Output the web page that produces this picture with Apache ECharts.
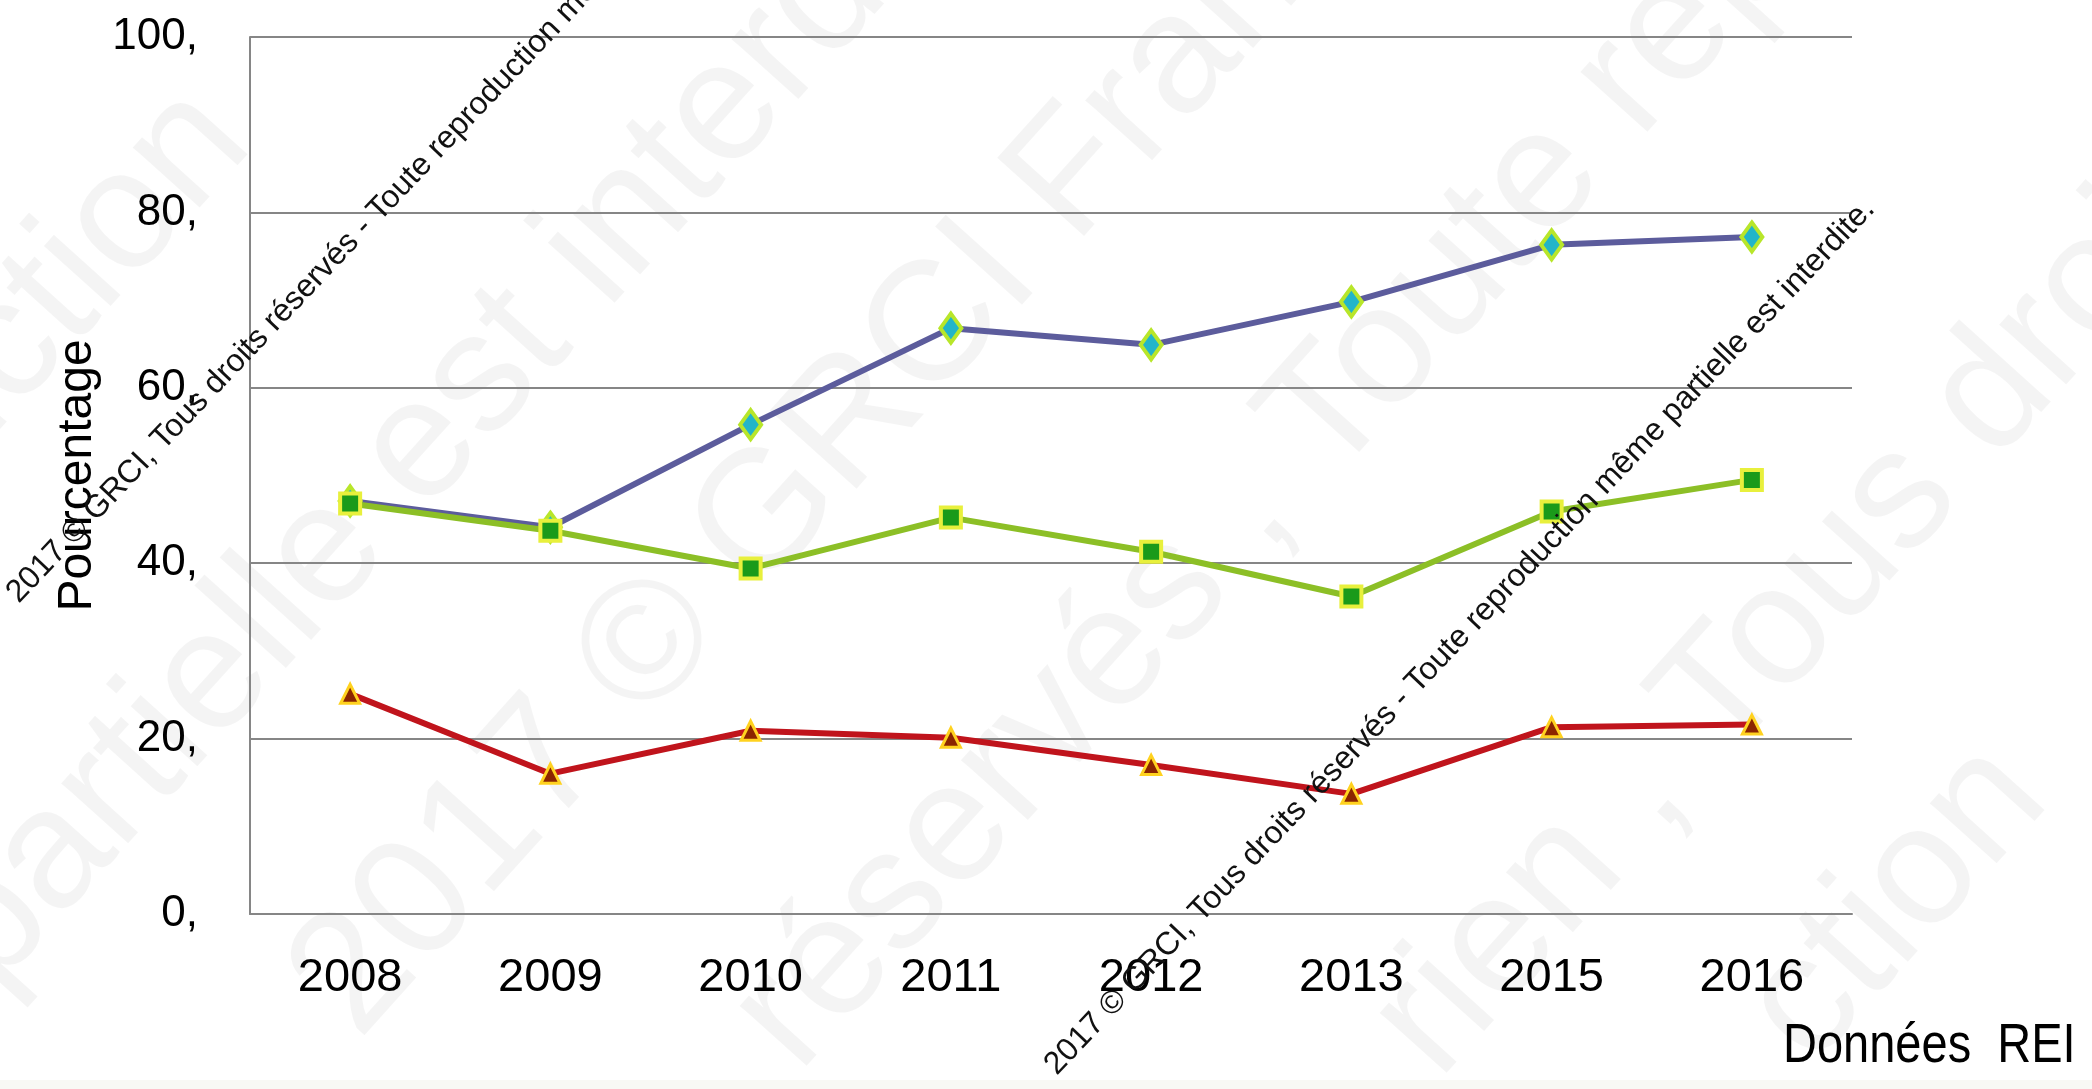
<!DOCTYPE html>
<html>
<head>
<meta charset="utf-8">
<script src="https://cdn.jsdelivr.net/npm/echarts@6/dist/echarts.min.js"></script>
<style>
html,body{margin:0;padding:0;background:#fff;}
#chart{width:2092px;height:1089px;}
</style>
</head>
<body>
<div id="chart"></div>
<script>
const categories = ['2008', '2009', '2010', '2011', '2012', '2013', '2015', '2016'];
const blueValues = [47.1, 44.1, 55.8, 66.8, 64.9, 69.8, 76.3, 77.2];
const greenValues = [46.8, 43.7, 39.4, 45.2, 41.3, 36.2, 45.9, 49.5];
const redValues = [25.1, 16.0, 20.9, 20.1, 17.0, 13.7, 21.3, 21.6];
const yMin = 0, yMax = 100, yStep = 20;
const yAxisName = 'Pourcentage';
const sourceText = 'Données  REI';
const copyrightText = '2017 © GRCI, Tous droits réservés - Toute reproduction même partielle est interdite.';
const faintTexts = [
  'Toute reproduction',
  'partielle est interdite',
  '2017 © GRCI France',
  'réservés , Toute reproduction',
  'rien , Tous droits',
  'ction'
];

const chart = echarts.init(document.getElementById('chart'));
const ang = 46.6 * Math.PI / 180;
const fang = 48 * Math.PI / 180;
const faintPos = [[-659, 1218], [22, 1018], [387, 1067], [827, 1100], [1467, 1107], [1840, 1094]];

const graphics = [
  { type: 'rect', left: 0, top: 1080, z: -20, shape: { width: 2092, height: 9 }, style: { fill: '#f8f9f5' } }
];
faintTexts.forEach((t, i) => {
  graphics.push({
    type: 'text', x: faintPos[i][0], y: faintPos[i][1], rotation: fang, z: -10,
    style: { text: t, font: '170px "Liberation Sans"', fill: 'rgba(0,0,0,0.045)', textAlign: 'left', textVerticalAlign: 'bottom' }
  });
});
[[24, 609], [1062, 1081]].forEach(p => {
  graphics.push({
    type: 'text', x: p[0], y: p[1], rotation: ang, z: 100,
    style: { text: copyrightText, font: '32px "Liberation Sans"', fill: '#111', textAlign: 'left', textVerticalAlign: 'bottom' }
  });
});
graphics.push({
  type: 'text', x: 1783, y: 1075, scaleY: 1.19, z: 50,
  style: { text: sourceText, font: '47px "Liberation Sans"', fill: '#000', textAlign: 'left', textVerticalAlign: 'bottom' }
});

chart.setOption({
  animation: false,
  backgroundColor: '#ffffff',
  grid: { left: 250, right: 240, top: 37, bottom: 175, containLabel: false },
  xAxis: {
    type: 'category',
    data: categories,
    boundaryGap: true,
    axisLine: { show: true, lineStyle: { color: '#868686', width: 2 } },
    axisTick: { show: false },
    axisLabel: { fontFamily: 'Liberation Sans', fontSize: 47, color: '#000', margin: 41 },
    splitLine: { show: false }
  },
  yAxis: {
    type: 'value',
    min: yMin, max: yMax, interval: yStep,
    name: yAxisName,
    nameLocation: 'middle',
    nameRotate: 90,
    nameGap: 140,
    nameTextStyle: { fontFamily: 'Liberation Sans', fontSize: 48, color: '#000' },
    axisLine: { show: true, lineStyle: { color: '#868686', width: 2 } },
    axisTick: { show: false },
    axisLabel: { fontFamily: 'Liberation Sans', fontSize: 44, color: '#000', margin: 52, formatter: v => v + ',' },
    splitLine: { show: true, lineStyle: { color: '#868686', width: 2 } }
  },
  series: [
    {
      type: 'line', data: blueValues, z: 3,
      lineStyle: { color: '#5c5c9c', width: 6 },
      symbol: 'diamond', symbolSize: [21, 29],
      itemStyle: { color: '#22b5c9', borderColor: '#b8e62a', borderWidth: 4 }
    },
    {
      type: 'line', data: greenValues, z: 4,
      lineStyle: { color: '#8cbf26', width: 6 },
      symbol: 'rect', symbolSize: 20,
      itemStyle: { color: '#1a9a1a', borderColor: '#e8f03c', borderWidth: 4 }
    },
    {
      type: 'line', data: redValues, z: 5,
      lineStyle: { color: '#c0141c', width: 6 },
      symbol: 'triangle', symbolSize: 19,
      itemStyle: { color: '#8b2500', borderColor: '#ffd21f', borderWidth: 3 }
    }
  ],
  graphic: graphics
});
</script>
</body>
</html>
